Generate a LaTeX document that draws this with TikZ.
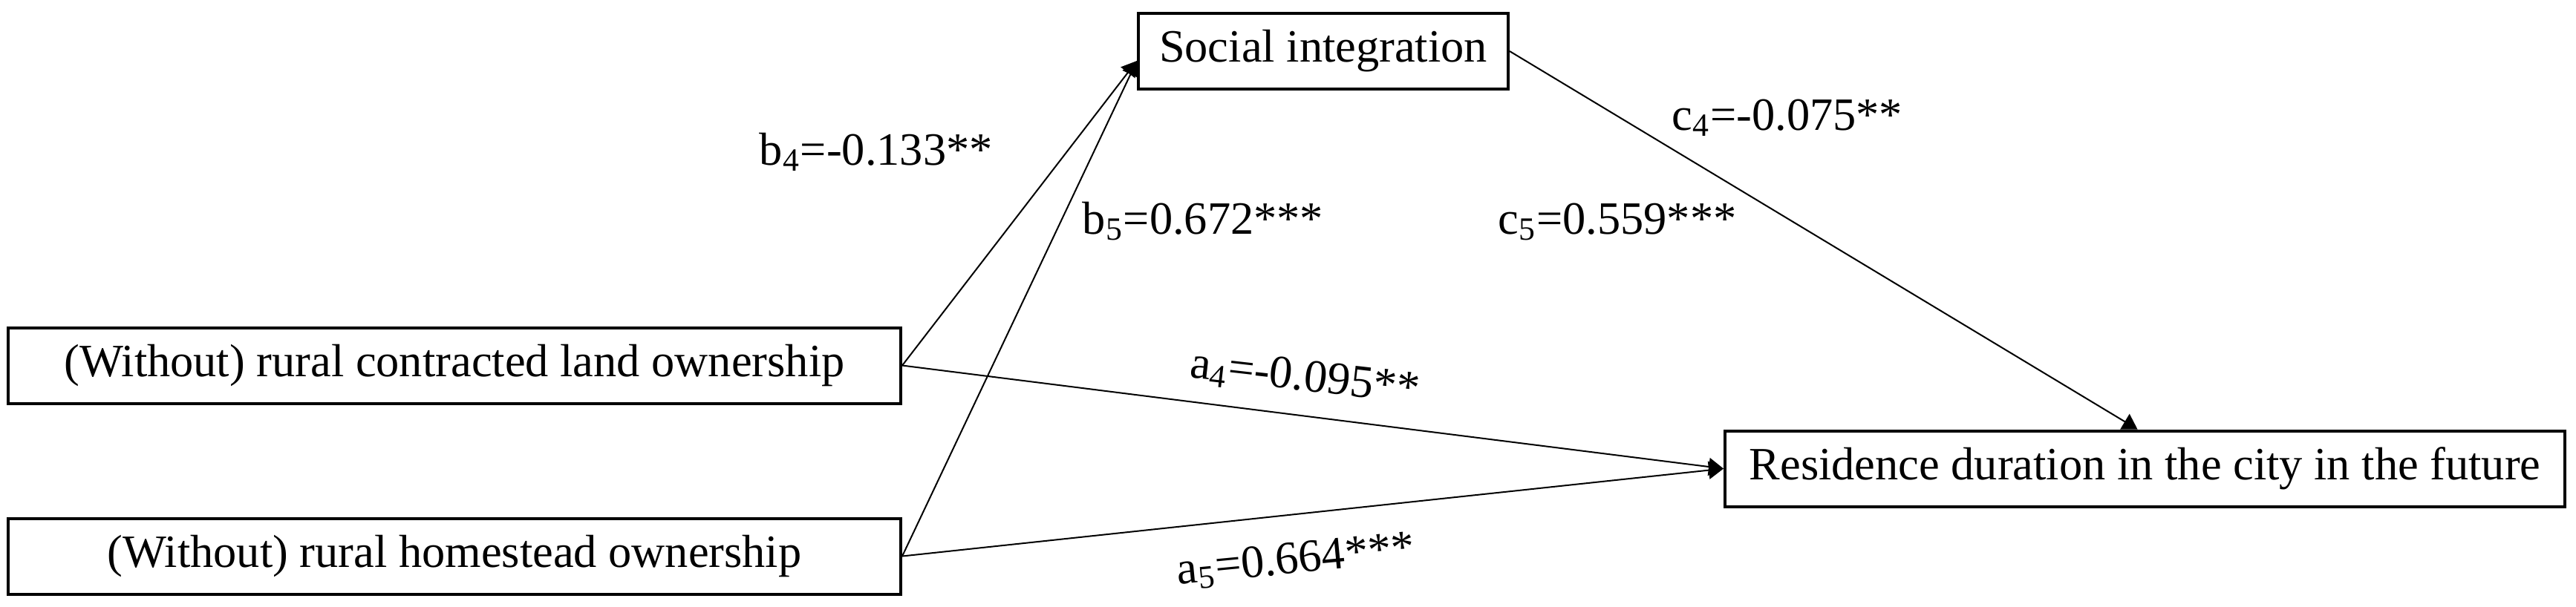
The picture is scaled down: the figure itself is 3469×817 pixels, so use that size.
\documentclass[tikz,border=0pt]{standalone}
\usepackage{fontspec}
\setmainfont{Liberation Serif}
\usetikzlibrary{arrows.meta}
\begin{document}
\begin{tikzpicture}[x=0.25pt,y=-0.25pt,
  every node/.style={font=\fontsize{15.6}{18}\selectfont},
  box/.style={draw,line width=1pt,inner sep=0pt,minimum height=25.5pt},
  conn/.style={line width=0.5pt,-{Triangle[length=5pt,width=6pt]}},
  lab/.style={inner sep=0pt,anchor=base west}]
\useasboundingbox (0,0) rectangle (3469,817);
\node[box,minimum width=300.5pt] (land) at (612,492.5) {(Without) rural contracted land ownership};
\node[box,minimum width=300.5pt] (home) at (612,749.5) {(Without) rural homestead ownership};
\node[box,minimum width=124.5pt] (social) at (1782,69) {Social integration};
\node[box,minimum width=282.75pt] (resid) at (2888.5,631.5) {Residence duration in the city in the future};
\coordinate (sin) at ([yshift=-3.25pt]social.west);
\coordinate (rin) at ([xshift=-2.5pt]resid.north);
\draw[conn] (land.east) -- (sin);
\draw[conn] (home.east) -- (sin);
\draw[conn] (land.east) -- (resid.west);
\draw[conn] (home.east) -- (resid.west);
\draw[conn] (social.east) -- (rin);
\node[lab] (b4) at (1022,222) {b\textsubscript{4}=-0.133**};
\node[lab] (b5) at (1457,315) {b\textsubscript{5}=0.672***};
\node[lab] (c4) at (2251,175) {c\textsubscript{4}=-0.075**};
\node[lab] (c5) at (2017,315) {c\textsubscript{5}=0.559***};
\node[inner sep=0pt,rotate=-6.5] (a4) at (1757,510) {a\textsubscript{4}=-0.095**};
\node[inner sep=0pt,rotate=5.5] (a5) at (1745,756) {a\textsubscript{5}=0.664***};
\end{tikzpicture}
\end{document}
